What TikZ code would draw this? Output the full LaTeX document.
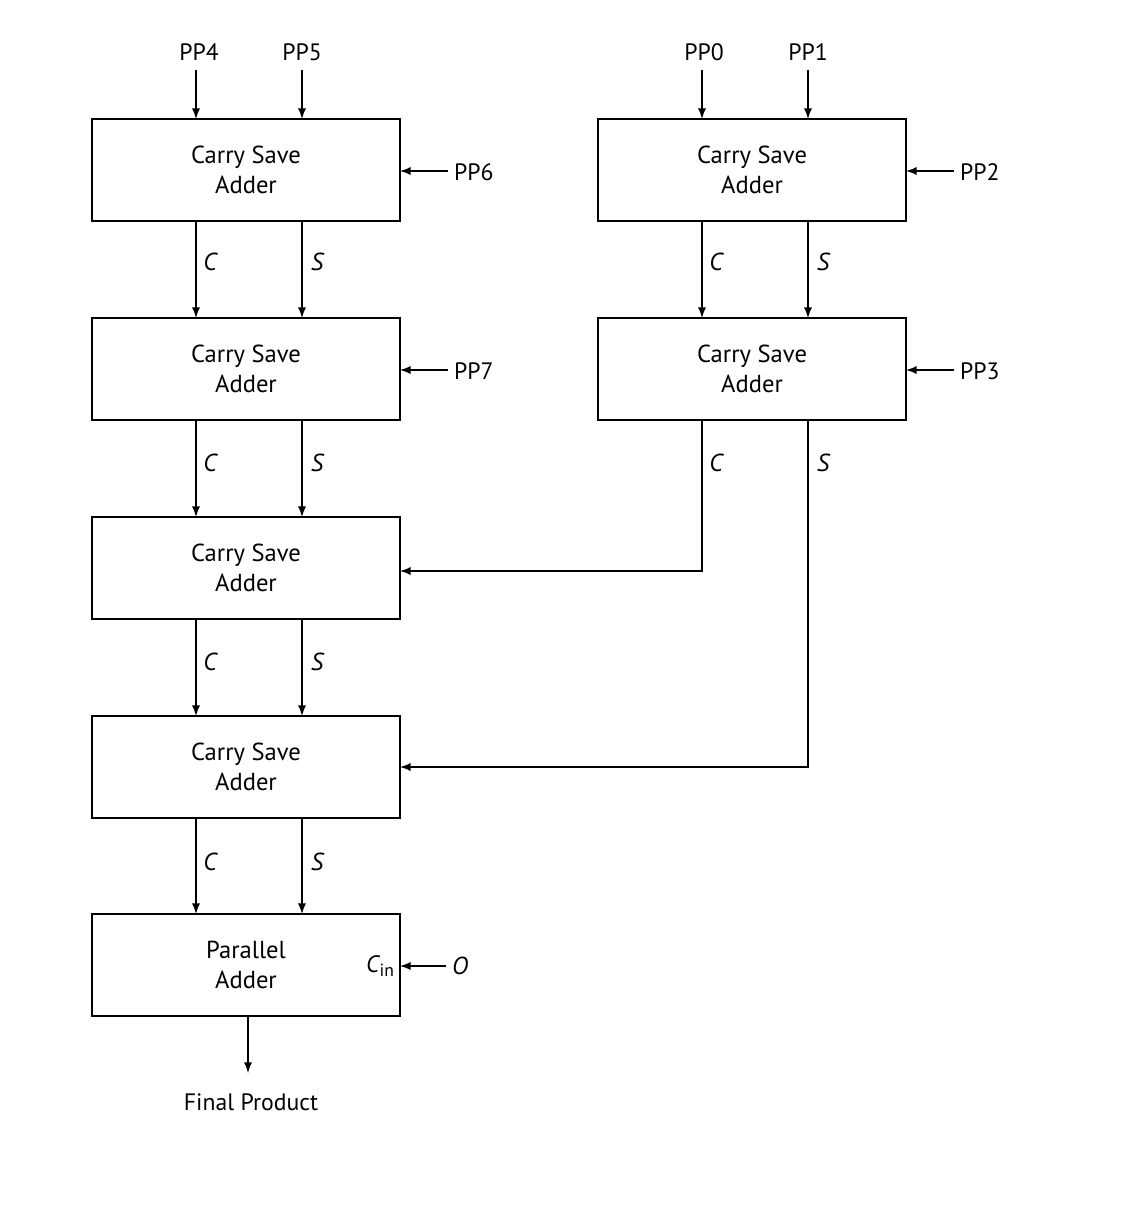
\documentclass[tikz,border=0pt]{standalone}
\usepackage{fontspec}
\setmainfont{PT Sans}
\begin{document}
\begin{tikzpicture}[x=0.02cm,y=-0.02cm,
  box/.style={draw,line width=1.3pt,minimum width=6.16cm,minimum height=2.04cm,align=center,font=\fontsize{14}{17}\selectfont,inner sep=0pt},
  lbl/.style={font=\fontsize{13.5}{16}\selectfont},
  il/.style={font=\fontsize{14}{16}\selectfont\itshape},
  arr/.style={->,>=latex,line width=1.1pt,shorten >=0pt}]
\useasboundingbox (0,0) rectangle (1130,1213);
\node[box] (A) at (246,170) {Carry Save\\Adder};
\node[box] (B) at (246,369) {Carry Save\\Adder};
\node[box] (C) at (246,568) {Carry Save\\Adder};
\node[box] (D) at (246,767) {Carry Save\\Adder};
\node[box] (E) at (246,965) {Parallel\\Adder};
\node[box] (R1) at (752,170) {Carry Save\\Adder};
\node[box] (R2) at (752,369) {Carry Save\\Adder};
% top inputs
\node[lbl] (pp4) at (199,52) {PP4};
\node[lbl] (pp5) at (302,52) {PP5};
\node[lbl] (pp0) at (704,52) {PP0};
\node[lbl] (pp1) at (808,52) {PP1};
\draw[arr] (196,70) -- (196,119);
\draw[arr] (302,70) -- (302,119);
\draw[arr] (702,70) -- (702,119);
\draw[arr] (808,70) -- (808,119);
% side inputs
\node[lbl,anchor=west] (pp6) at (448,172) {PP6};
\node[lbl,anchor=west] (pp7) at (448,371) {PP7};
\node[lbl,anchor=west] (pp2) at (954,172) {PP2};
\node[lbl,anchor=west] (pp3) at (954,371) {PP3};
\draw[arr] (pp6.west |- 0,171) -- (400,171);
\draw[arr] (pp7.west |- 0,370) -- (400,370);
\draw[arr] (pp2.west |- 0,171) -- (906,171);
\draw[arr] (pp3.west |- 0,370) -- (906,370);
% C/S between left boxes
\foreach \ya/\yb/\yl in {221/318/262, 420/517/463, 619/716/662, 818/914/862}{
  \draw[arr] (196,\ya) -- (196,\yb);
  \draw[arr] (302,\ya) -- (302,\yb);
  \node[il] at (210,\yl) {C};
  \node[il] at (317,\yl) {S};
}
\draw[arr] (702,221) -- (702,318);
\draw[arr] (808,221) -- (808,318);
\node[il] at (716,262) {C};
\node[il] at (823,262) {S};
\draw[arr] (702,420) -- (702,571) -- (400,571);
\draw[arr] (808,420) -- (808,767) -- (400,767);
\node[il] at (716,463) {C};
\node[il] at (823,463) {S};
% Cin
\node[lbl,anchor=east,inner sep=1pt] (cin) at (396,966) {\textit{C}\kern-0.5pt\raisebox{-0.4ex}{\fontsize{10}{11}\selectfont in}};
\node[il,anchor=west] (zero) at (446,966) {O};
\draw[arr] (zero.west) -- (400,966);
% output
\node[lbl] (fp) at (251,1102) {Final Product};
\draw[arr] (248,1016) -- (248,1073);
\end{tikzpicture}
\end{document}
